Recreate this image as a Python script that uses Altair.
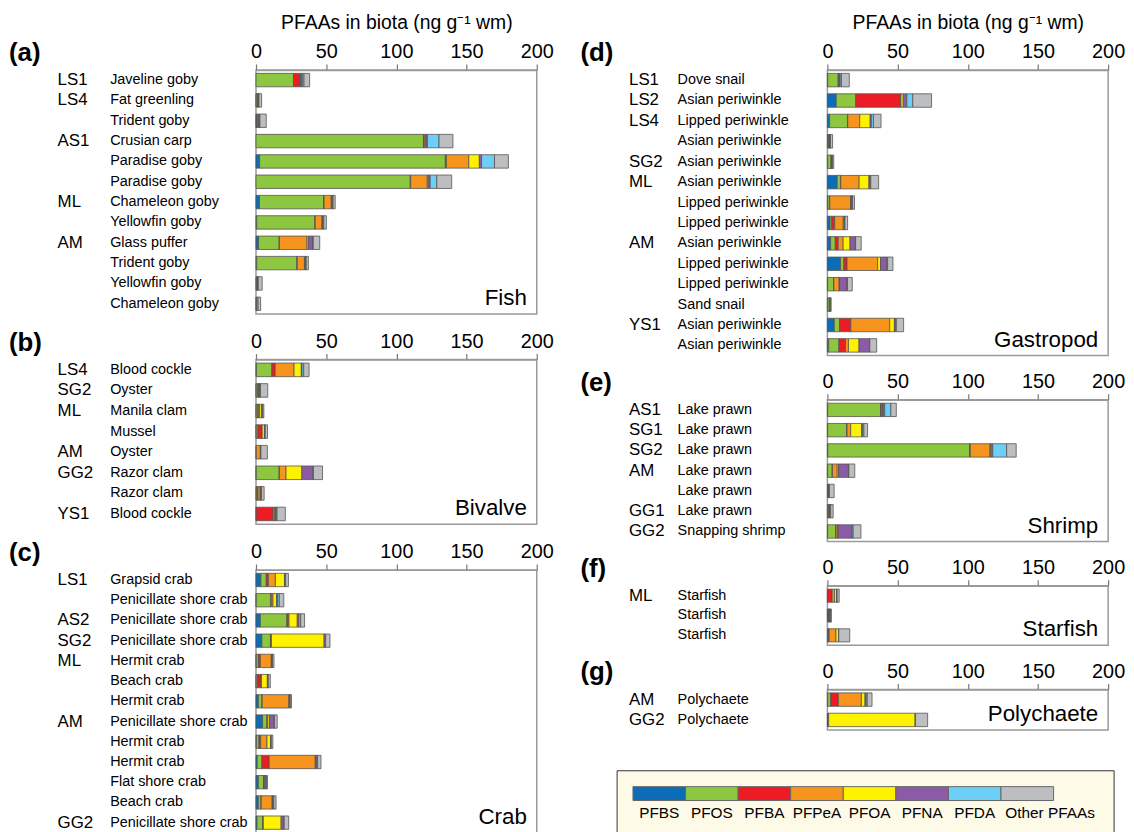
import altair as alt
import pandas as pd

COMPOUNDS = ["PFBS", "PFOS", "PFBA", "PFPeA", "PFOA", "PFNA", "PFDA", "Other PFAAs"]
BAR_COLORS = ["#0b6db7", "#8dc63f", "#ed1c24", "#f7941d", "#fff200", "#8b5ca5", "#6dcff6", "#bcbec0"]
LEGEND_COLORS = ["#0b6db7", "#8dc63f", "#ed1c24", "#f7941d", "#fff36d", "#8b5ca5", "#00bdf2", "#bcbec0"]
TICKS = [0, 50, 100, 150, 200]
AXIS_TITLE = "PFAAs in biota (ng g\u207b\u00b9 wm)"

# Values per row: PFBS, PFOS, PFBA, PFPeA, PFOA, PFNA, PFDA, Other PFAAs
FISH_SITE = ["LS1", "LS4", "", "AS1", "", "", "ML", "", "AM", "", "", ""]
FISH_SPECIES = ["Javeline goby", "Fat greenling", "Trident goby", "Crusian carp", "Paradise goby",
                "Paradise goby", "Chameleon goby", "Yellowfin goby", "Glass puffer", "Trident goby",
                "Yellowfin goby", "Chameleon goby"]
FISH_VALUES = [
    [0, 26.7, 4.2, 0.6, 0.3, 1.2, 1.2, 4.0],
    [0.2, 0.8, 0.2, 0.3, 0.2, 0.2, 0.2, 1.9],
    [0.2, 0.4, 0.2, 0.8, 0.4, 0.4, 0.4, 4.5],
    [0, 119.3, 0.5, 0.8, 0.5, 1.0, 8.3, 9.9],
    [2.6, 132.3, 0.7, 16.0, 7.5, 1.6, 9.2, 9.9],
    [0, 109.9, 0.3, 11.8, 0.7, 1.4, 4.7, 10.6],
    [2.5, 45.7, 0.3, 5.1, 0.4, 0.5, 0.4, 1.5],
    [0.5, 41.5, 0.2, 4.8, 0.4, 0.4, 0.5, 1.8],
    [1.8, 14.7, 0.2, 19.6, 1.0, 3.0, 0.5, 4.6],
    [0.5, 28.7, 0.2, 5.1, 0.4, 0.5, 0.4, 1.5],
    [0.3, 0.6, 0.2, 0.2, 0.1, 0.1, 0.1, 2.8],
    [0, 0.2, 0.2, 1.1, 0, 0, 0, 1.8],
]

BIVALVE_SITE = ["LS4", "SG2", "ML", "", "AM", "GG2", "", "YS1"]
BIVALVE_SPECIES = ["Blood cockle", "Oyster", "Manila clam", "Mussel", "Oyster", "Razor clam",
                   "Razor clam", "Blood cockle"]
BIVALVE_VALUES = [
    [0.3, 11.0, 2.4, 13.4, 5.2, 0.5, 1.2, 3.8],
    [0.2, 1.2, 0.2, 0.3, 0.3, 0.8, 0.2, 5.2],
    [0.2, 1.2, 0.3, 0.9, 1.4, 0.5, 0.3, 0.8],
    [0.2, 1.2, 2.8, 0.2, 1.6, 0.4, 0.2, 1.6],
    [0, 0.2, 0, 2.9, 0.2, 0.2, 0, 4.6],
    [0.2, 16.3, 0.2, 4.7, 11.3, 7.8, 0.4, 6.5],
    [0.3, 0.8, 0.3, 1.6, 0.4, 0.3, 0.2, 1.9],
    [0, 0.2, 12.0, 0.9, 0.6, 0.7, 0.6, 5.9],
]

CRAB_SITE = ["LS1", "", "AS2", "SG2", "ML", "", "", "AM", "", "", "", "", "GG2"]
CRAB_SPECIES = ["Grapsid crab", "Penicillate shore crab", "Penicillate shore crab",
                "Penicillate shore crab", "Hermit crab", "Beach crab", "Hermit crab",
                "Penicillate shore crab", "Hermit crab", "Hermit crab", "Flat shore crab",
                "Beach crab", "Penicillate shore crab"]
CRAB_VALUES = [
    [3.5, 3.8, 1.5, 5.0, 6.5, 0.5, 0.3, 2.0],
    [0.2, 10.4, 0.3, 1.2, 2.5, 0.8, 1.2, 3.2],
    [3.1, 18.9, 0.7, 0.8, 5.9, 1.2, 1.2, 2.8],
    [4.2, 6.1, 0.4, 0.3, 37.5, 0.9, 0.2, 3.1],
    [0.2, 1.5, 1.4, 7.8, 0.3, 0.4, 0.2, 1.0],
    [0.2, 1.0, 2.4, 0.3, 4.2, 0.4, 0.3, 1.4],
    [1.7, 2.6, 0.1, 19.1, 0.3, 0.4, 0.2, 0.9],
    [4.7, 3.1, 0.3, 0.3, 1.2, 3.1, 0.5, 1.9],
    [0.3, 1.8, 1.2, 4.5, 2.6, 0.3, 0.2, 1.1],
    [0.9, 3.3, 5.2, 32.8, 0.4, 0.8, 0.5, 2.4],
    [1.7, 3.8, 0.1, 0.1, 0.1, 1.5, 0.1, 0.8],
    [1.7, 1.9, 0.1, 7.8, 0.3, 0.6, 0.3, 1.6],
    [0.7, 4.2, 0.1, 0.2, 12.7, 1.9, 0.3, 3.2],
]

GASTROPOD_SITE = ["LS1", "LS2", "LS4", "", "SG2", "ML", "", "", "AM", "", "", "", "YS1", ""]
GASTROPOD_SPECIES = ["Dove snail", "Asian periwinkle", "Lipped periwinkle", "Asian periwinkle",
                     "Asian periwinkle", "Asian periwinkle", "Lipped periwinkle", "Lipped periwinkle",
                     "Asian periwinkle", "Lipped periwinkle", "Lipped periwinkle", "Sand snail",
                     "Asian periwinkle", "Asian periwinkle"]
GASTROPOD_VALUES = [
    [0.2, 7.5, 0.2, 0.3, 0.3, 0.6, 0.9, 5.6],
    [6.3, 13.9, 31.9, 0.3, 1.6, 2.6, 4.2, 13.4],
    [1.6, 12.7, 0.2, 8.5, 7.5, 0.8, 1.5, 5.4],
    [0.3, 0.8, 0.2, 0.3, 0.2, 0.2, 0.2, 1.5],
    [0.2, 2.4, 0.2, 0.3, 0.2, 0.2, 0.1, 0.9],
    [7.0, 2.3, 0.2, 13.1, 7.0, 0.8, 0.5, 5.6],
    [0.3, 1.3, 0.1, 14.8, 0.4, 0.6, 0.4, 1.4],
    [1.9, 1.2, 2.1, 6.1, 0.6, 0.4, 0.2, 1.9],
    [2.3, 3.3, 2.1, 3.5, 4.9, 3.8, 0.2, 4.0],
    [9.4, 2.3, 2.3, 21.8, 2.1, 4.5, 0.5, 3.8],
    [0.2, 4.2, 0.2, 3.8, 0.2, 5.4, 0.3, 3.4],
    [0.2, 1.2, 0.2, 0.2, 0.1, 0.1, 0.1, 0.6],
    [4.9, 3.8, 8.0, 27.7, 3.3, 1.0, 0.4, 5.2],
    [0.9, 7.3, 4.7, 2.1, 7.5, 7.5, 0.2, 4.9],
]

SHRIMP_SITE = ["AS1", "SG1", "SG2", "AM", "", "GG1", "GG2"]
SHRIMP_SPECIES = ["Lake prawn", "Lake prawn", "Lake prawn", "Lake prawn", "Lake prawn",
                  "Lake prawn", "Snapping shrimp"]
SHRIMP_VALUES = [
    [0.2, 37.7, 0.5, 0.8, 0.4, 1.2, 4.4, 3.9],
    [0.2, 13.6, 0.2, 2.6, 7.8, 0.6, 1.0, 2.6],
    [0.3, 101.0, 0.5, 14.0, 0.6, 1.4, 9.9, 6.8],
    [0.2, 3.2, 0.2, 3.4, 1.0, 7.0, 0.3, 4.2],
    [0.2, 0.5, 0.2, 0.2, 0.1, 0.1, 0.1, 3.4],
    [0.3, 0.8, 0.3, 0.3, 0.2, 0.2, 0.2, 1.8],
    [0.2, 5.8, 0.2, 1.3, 0.2, 9.9, 0.8, 5.5],
]

STARFISH_SITE = ["ML", "", ""]
STARFISH_SPECIES = ["Starfish", "Starfish", "Starfish"]
STARFISH_VALUES = [
    [0, 0.1, 3.3, 1.7, 1.6, 0.1, 0.1, 1.5],
    [0.4, 0.6, 0.3, 0.3, 0.3, 0.2, 0.2, 0.5],
    [1.0, 0.1, 0.1, 4.9, 1.8, 0.1, 0.1, 7.8],
]

POLY_SITE = ["AM", "GG2"]
POLY_SPECIES = ["Polychaete", "Polychaete"]
POLY_VALUES = [
    [0.2, 2.1, 5.5, 16.4, 2.6, 0.8, 0.8, 3.4],
    [0.4, 0.3, 0.1, 0.1, 61.6, 0.2, 0.1, 8.6],
]

FONT = "Liberation Sans, Arial, sans-serif"
W = 283


def panel(key, letter, cat, sites, species, values, step, title=None, spec_dx=-147):
    n = len(species)
    h = round(step * n)
    rids = [f"{key}{i:02d}" for i in range(n)]
    rows = []
    for i, vals in enumerate(values):
        for k, v in enumerate(vals):
            if v > 0:
                rows.append({"rid": rids[i], "compound": COMPOUNDS[k], "k": k, "v": v})
    bars_df = pd.DataFrame(rows)
    lab_df = pd.DataFrame({"rid": rids, "site": sites, "species": species})
    yscale = alt.Scale(domain=rids, paddingInner=0, paddingOuter=0)
    xaxis = alt.Axis(orient="top", values=TICKS, title=title, labelFlush=False, labelOverlap=False,
                     labelFontSize=20, labelFont=FONT, labelColor="black", labelPadding=2,
                     tickSize=6, tickColor="#777777", tickWidth=1.2, domainColor="#9a9a9a",
                     domainWidth=1.5, grid=False, titleFontSize=19.5, titleFont=FONT,
                     titleFontWeight="normal", titleColor="black", titlePadding=10)
    yaxis = alt.Axis(labels=False, title=None, domain=False, ticks=True, tickSize=5,
                     tickColor="#444444", tickWidth=1.2, bandPosition=0, grid=False)
    bars = alt.Chart(bars_df).mark_bar(
        height={"band": 0.66}, stroke="#555555", strokeWidth=0.8
    ).encode(
        x=alt.X("v:Q", stack="zero", scale=alt.Scale(domain=[0, 200], nice=False), axis=xaxis),
        y=alt.Y("rid:N", scale=yscale, axis=yaxis, sort=None),
        color=alt.Color("compound:N", scale=alt.Scale(domain=COMPOUNDS, range=BAR_COLORS), legend=None),
        order=alt.Order("k:Q", sort="ascending"),
    )
    site_t = alt.Chart(lab_df[lab_df.site != ""]).mark_text(
        align="left", baseline="middle", fontSize=17, font=FONT, color="black"
    ).encode(y=alt.Y("rid:N", scale=yscale, axis=None, sort=None), x=alt.value(-200), text="site:N")
    spec_t = alt.Chart(lab_df).mark_text(
        align="left", baseline="middle", fontSize=14.5, font=FONT, color="black"
    ).encode(y=alt.Y("rid:N", scale=yscale, axis=None, sort=None), x=alt.value(spec_dx), text="species:N")
    let_t = alt.Chart(pd.DataFrame({"t": [letter]})).mark_text(
        align="left", baseline="middle", fontSize=26, fontWeight="bold", font=FONT, color="black"
    ).encode(x=alt.value(-249), y=alt.value(-17), text="t:N")
    cat_t = alt.Chart(pd.DataFrame({"t": [cat]})).mark_text(
        align="right", baseline="alphabetic", fontSize=22.5, font=FONT, color="black"
    ).encode(x=alt.value(W - 10), y=alt.value(h - 9), text="t:N")
    return alt.layer(bars, site_t, spec_t, let_t, cat_t).properties(width=W, height=h)


pa = panel("a", "(a)", "Fish", FISH_SITE, FISH_SPECIES, FISH_VALUES, 20.5, AXIS_TITLE)
pb = panel("b", "(b)", "Bivalve", BIVALVE_SITE, BIVALVE_SPECIES, BIVALVE_VALUES, 20.8)
pc = panel("c", "(c)", "Crab", CRAB_SITE, CRAB_SPECIES, CRAB_VALUES, 20.4)
pd_ = panel("d", "(d)", "Gastropod", GASTROPOD_SITE, GASTROPOD_SPECIES, GASTROPOD_VALUES, 20.6,
            AXIS_TITLE, spec_dx=-151)
pe = panel("e", "(e)", "Shrimp", SHRIMP_SITE, SHRIMP_SPECIES, SHRIMP_VALUES, 20.4, spec_dx=-151)
pf = panel("f", "(f)", "Starfish", STARFISH_SITE, STARFISH_SPECIES, STARFISH_VALUES, 20.0, spec_dx=-151)
pg = panel("g", "(g)", "Polychaete", POLY_SITE, POLY_SPECIES, POLY_VALUES, 20.5, spec_dx=-151)

# custom legend
leg_df = pd.DataFrame({"compound": COMPOUNDS, "i": list(range(len(COMPOUNDS)))})
lx = alt.Scale(domain=[196 / 53, (W + 196) / 53], nice=False, zero=False)
box = alt.Chart(pd.DataFrame({"t": [0]})).mark_rect(
    fill="#fdfae8", stroke="#333333", strokeWidth=1
).encode(x=alt.value(-212), x2=alt.value(289), y=alt.value(0), y2=alt.value(80))
sw = alt.Chart(leg_df).transform_calculate(i2="datum.i + 1").mark_rect(
    stroke="#666666", strokeWidth=1
).encode(
    x=alt.X("i:Q", scale=lx, axis=None), x2="i2:Q",
    y=alt.value(16), y2=alt.value(30),
    color=alt.Color("compound:N", scale=alt.Scale(domain=COMPOUNDS, range=LEGEND_COLORS), legend=None),
)
lt1 = alt.Chart(leg_df).transform_filter("datum.i < 7").transform_calculate(m="datum.i + 0.5").mark_text(
    align="center", baseline="middle", fontSize=15.5, font=FONT, color="black"
).encode(x=alt.X("m:Q", scale=lx, axis=None), y=alt.value(43), text="compound:N")
lt2 = alt.Chart(leg_df).transform_filter("datum.i == 7").transform_calculate(m="datum.i + 0.08").mark_text(
    align="left", baseline="middle", fontSize=15.5, font=FONT, color="black"
).encode(x=alt.X("m:Q", scale=lx, axis=None), y=alt.value(43), text="compound:N")
legend = alt.layer(box, sw, lt1, lt2).properties(width=W, height=70, view=alt.ViewBackground(stroke=None))

left = alt.vconcat(pa, pb, pc, spacing=14)
right = alt.vconcat(alt.vconcat(pd_, pe, pf, pg, spacing=12.5), legend, spacing=38.5)
chart = alt.hconcat(left, right, spacing=25).properties(
    padding=0
).configure_view(stroke="#9a9a9a", strokeWidth=1.5)

chart.save("out.html", embed_options={"renderer": "svg", "actions": False})
